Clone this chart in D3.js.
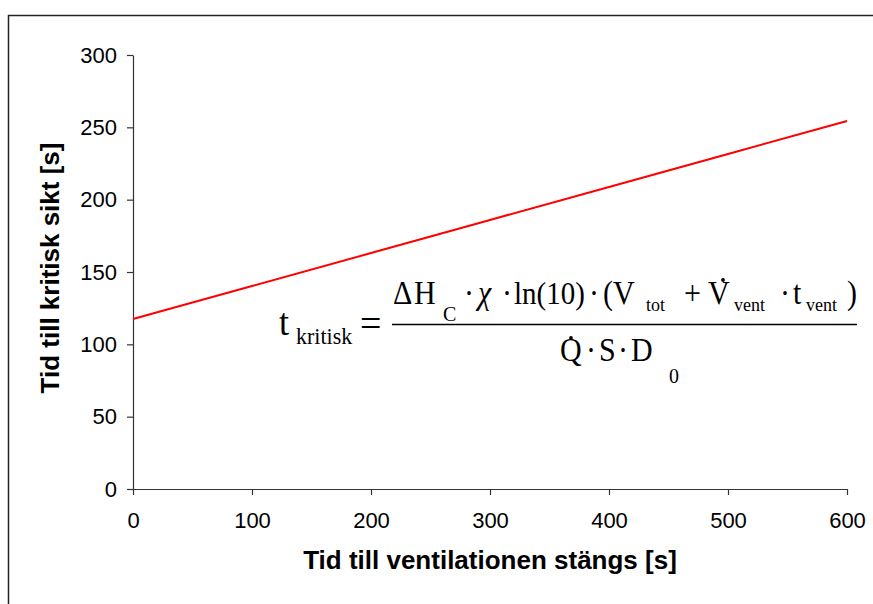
<!DOCTYPE html>
<html>
<head>
<meta charset="utf-8">
<script src="https://cdn.jsdelivr.net/npm/d3@7/dist/d3.min.js"></script>
<style>
  html, body { margin: 0; padding: 0; background: #fff; }
  svg { display: block; }
</style>
</head>
<body>
<svg id="chart" width="873" height="604"></svg>
<script>
// Time until ventilation is shut off [s] and resulting time to critical visibility [s]
const ventTimes = [0, 100, 200, 300, 400, 500, 600];
const critTimes = [117.5, 140.3, 163.1, 186.0, 208.8, 231.6, 254.4];
const xTicks = [0, 100, 200, 300, 400, 500, 600];
const yTicks = [0, 50, 100, 150, 200, 250, 300];
const xTitle = "Tid till ventilationen stängs [s]";
const yTitle = "Tid till kritisk sikt [s]";

const svg = d3.select("#chart");
const W = 873, H = 604;
const plot = { left: 133, right: 847, top: 55, bottom: 489 };

// frame around the chart (left and top edges visible)
svg.append("path")
  .attr("d", `M8.5,${H} V15.5 H${W}`)
  .attr("fill", "none").attr("stroke", "#222").attr("stroke-width", 1.5);

const x = d3.scaleLinear().domain([0, 600]).range([plot.left, plot.right]);
const y = d3.scaleLinear().domain([0, 300]).range([plot.bottom, plot.top]);

const axisColor = "#333";
const labelFont = "'Liberation Sans', Arial, sans-serif";

const xAxis = svg.append("g")
  .attr("transform", `translate(0,${plot.bottom})`)
  .call(d3.axisBottom(x).tickValues(xTicks).tickSize(6).tickPadding(17).tickSizeOuter(0));
const yAxis = svg.append("g")
  .attr("transform", `translate(${plot.left},0)`)
  .call(d3.axisLeft(y).tickValues(yTicks).tickSize(6).tickPadding(10).tickSizeOuter(0));

[xAxis, yAxis].forEach(g => {
  g.selectAll("path.domain").attr("stroke", axisColor).attr("stroke-width", 1.2);
  g.selectAll(".tick line").attr("stroke", axisColor).attr("stroke-width", 1.2);
  g.selectAll(".tick text")
    .attr("fill", "#000")
    .style("font-family", labelFont)
    .style("font-size", "22px");
});

// data line
svg.append("path")
  .datum(ventTimes.map((v, i) => [v, critTimes[i]]))
  .attr("fill", "none")
  .attr("stroke", "#ff0000")
  .attr("stroke-width", 2)
  .attr("d", d3.line().x(d => x(d[0])).y(d => y(d[1])));

// axis titles
svg.append("text")
  .attr("x", (plot.left + plot.right) / 2)
  .attr("y", 569)
  .attr("text-anchor", "middle")
  .style("font-family", labelFont)
  .style("font-weight", "bold")
  .style("font-size", "26px")
  .text(xTitle);

svg.append("text")
  .attr("transform", "translate(59,268) rotate(-90)")
  .attr("text-anchor", "middle")
  .style("font-family", labelFont)
  .style("font-weight", "bold")
  .style("font-size", "26px")
  .text(yTitle);

// formula for the critical time (glyphs slightly stretched vertically)
const serif = "'Liberation Serif', 'Times New Roman', serif";
const eq = svg.append("g").style("font-family", serif).attr("fill", "#000");
function put(txt, px, py, size, opts = {}) {
  const sy = opts.sy || 1.1;
  const t = eq.append("text")
    .attr("transform", `translate(${px},${py}) scale(1,${sy})`)
    .style("font-size", size + "px").text(txt);
  if (opts.italic) t.style("font-style", "italic");
  if (opts.mid) t.attr("text-anchor", "middle");
  return t;
}
function dot(px, py) {
  eq.append("circle").attr("cx", px).attr("cy", py).attr("r", 1.9).attr("fill", "#000");
}
const num = 304, den = 361, F = 30, sub = 18;

put("t", 279, 335, 36, { sy: 1.05 });
put("kritisk", 296, 344, 22, { sy: 1.05 });
put("=", 360, 336, 38, { sy: 1 });
eq.append("line").attr("x1", 392).attr("x2", 857).attr("y1", 324.5).attr("y2", 324.5)
  .attr("stroke", "#000").attr("stroke-width", 1.3);

// numerator
put("\u0394", 393, num, F);
put("H", 414, num, F);
put("C", 443, 321, 20);
put("\u00B7", 469, num, F, { mid: true });
put("\u03C7", 478, num, F, { italic: true });
put("\u00B7", 507, num, F, { mid: true });
put("ln(10)", 514, num, 29);
put("\u00B7", 594, num, F, { mid: true });
put("(V", 603, num, F);
put("tot", 646, 311, sub);
put("+", 684, num, F);
put("V", 708, num, F);
dot(723, 280);
put("vent", 734, 311, sub);
put("\u00B7", 785, num, F, { mid: true });
put("t", 793, num, F);
put("vent", 806, 311, sub);
put(")", 847, num, F);

// denominator
put("Q", 560, den, F);
dot(571, 338);
put("\u00B7", 591, den, F, { mid: true });
put("S", 599, den, F);
put("\u00B7", 623, den, F, { mid: true });
put("D", 631, den, F);
put("0", 669, 383, 20);
</script>
</body>
</html>
